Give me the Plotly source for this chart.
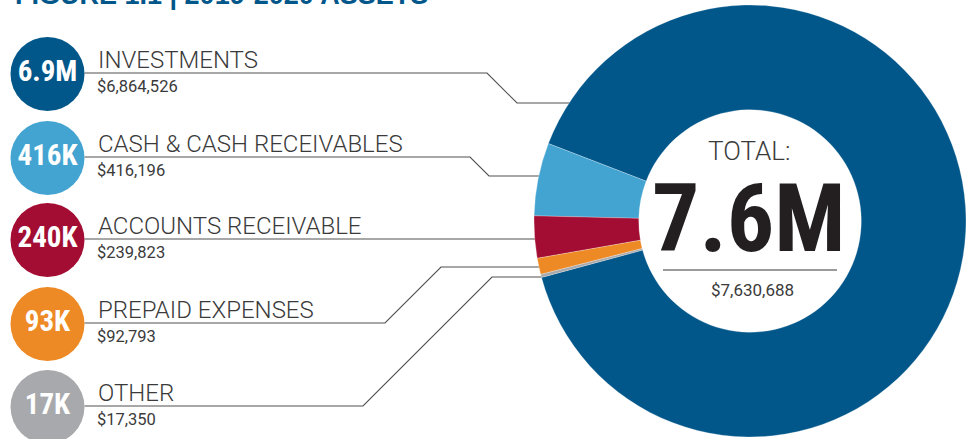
import math
import plotly.graph_objects as go

# ---------------- data ----------------
categories = ["INVESTMENTS", "CASH & CASH RECEIVABLES", "ACCOUNTS RECEIVABLE",
              "PREPAID EXPENSES", "OTHER"]
values = [6864526, 416196, 239823, 92793, 17350]
colors = ["#02578a", "#43a4d2", "#a30d33", "#ee8a25", "#a8a9ac"]
title_text = "FIGURE 1.1 | 2019-2020 ASSETS"
total_label = "TOTAL:"

# ---------------- layout constants (pixels) ----------------
W, H = 974, 439
CX, CY, R = 750, 221, 216
HOLE = 0.515
row_lines = [73, 157, 239, 323, 406]          # y of each leader line
circle_x, circle_r = 47.5, 37
label_x = 96
# bend points (x where line bends, and final y of the horizontal run into the donut)
bends = [(487, 103), (470, 176), (None, 239), (385, 267), (363, 277)]

total = sum(values)


def short(v):
    if v >= 1e6:
        return f"{v/1e6:.1f}M"
    return f"{round(v/1e3):.0f}K"


def money(v):
    return f"${v:,.0f}"


CONDENSED = "Liberation Sans Narrow, Roboto Condensed, DejaVu Sans Condensed, Arial Narrow, sans-serif"
LIGHT = "Roboto, Lato, Liberation Sans, sans-serif"
TXT = "#3a3a3a"

fig = go.Figure()

# donut
fig.add_trace(go.Pie(
    labels=categories, values=values, sort=False, direction="counterclockwise",
    rotation=-69, hole=HOLE, textinfo="none", hoverinfo="label+value",
    marker=dict(colors=colors, line=dict(color="rgba(255,255,255,0.5)", width=0.5)),
    domain=dict(x=[(CX - R) / W, (CX + R) / W], y=[(H - CY - R) / H, (H - CY + R) / H]),
    showlegend=False,
))

# leader lines
for ly, (bx, by) in zip(row_lines, bends):
    xs = [circle_x + circle_r]
    ys = [ly]
    if bx is not None:
        xs.append(bx)
        ys.append(ly)
        xs.append(bx + abs(ly - by))
        ys.append(by)
    ex = CX - math.sqrt(R ** 2 - (by - CY) ** 2) + 3
    xs.append(ex)
    ys.append(by)
    fig.add_trace(go.Scatter(x=xs, y=ys, mode="lines", line=dict(color="#505050", width=1.1),
                             hoverinfo="skip", showlegend=False))

# value circles
fig.add_trace(go.Scatter(
    x=[circle_x] * len(values), y=[ly + 1 for ly in row_lines], mode="markers+text",
    marker=dict(size=2 * circle_r, color=colors, line=dict(width=0)),
    text=[short(v) for v in values], textposition="middle center",
    textfont=dict(family=CONDENSED, size=29, color="white", weight="bold"),
    hoverinfo="skip", showlegend=False,
))

ann = []
for cat, v, ly in zip(categories, values, row_lines):
    ann.append(dict(x=label_x, y=ly - 13, text=cat, xanchor="left", yanchor="middle",
                    font=dict(family=LIGHT, size=24, color=TXT, weight=300), showarrow=False,
                    xref="x", yref="y"))
    ann.append(dict(x=label_x - 1, y=ly + 13, text=money(v), xanchor="left", yanchor="middle",
                    font=dict(family=LIGHT, size=16.5, color=TXT), showarrow=False,
                    xref="x", yref="y"))

# centre texts
ann.append(dict(x=749, y=151, text=total_label, xanchor="center", yanchor="middle",
                font=dict(family=LIGHT, size=26, color=TXT, weight=300), showarrow=False,
                xref="x", yref="y"))
ann.append(dict(x=749, y=219, text=short(total), xanchor="center", yanchor="middle",
                font=dict(family=CONDENSED, size=94, color="#231f20", weight="bold"),
                showarrow=False, xref="x", yref="y"))
ann.append(dict(x=752, y=290, text=money(total), xanchor="center", yanchor="middle",
                font=dict(family=LIGHT, size=17, color=TXT), showarrow=False,
                xref="x", yref="y"))
# title (cut at top edge as in the original)
ann.append(dict(x=13, y=12, text=f"<b>{title_text}</b>", xanchor="left", yanchor="bottom",
                font=dict(family="Liberation Sans, Arial, sans-serif", size=27, color="#02578a"),
                showarrow=False, xref="x", yref="y"))

fig.update_layout(
    width=W, height=H, margin=dict(l=0, r=0, t=0, b=0),
    paper_bgcolor="white", plot_bgcolor="rgba(0,0,0,0)",
    xaxis=dict(range=[0, W], visible=False, fixedrange=True),
    yaxis=dict(range=[H, 0], visible=False, fixedrange=True),
    annotations=ann,
    shapes=[dict(type="line", xref="x", yref="y", x0=663, x1=837, y0=270, y1=270,
                 line=dict(color="#7a7a7a", width=1.5))],
)

fig.write_html("out.html")
